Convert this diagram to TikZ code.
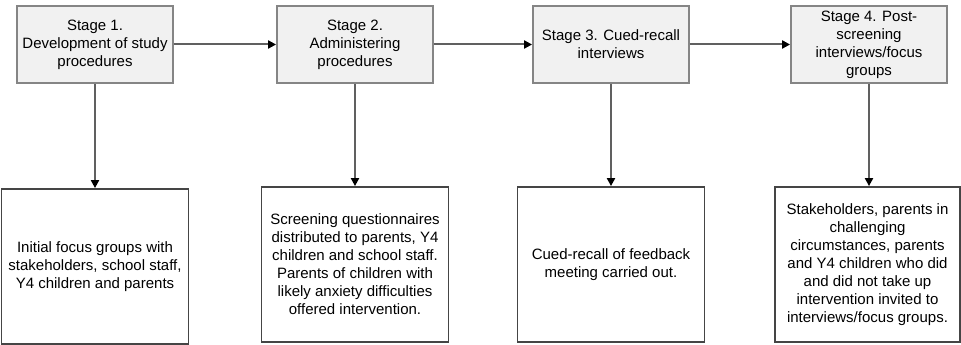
\documentclass[tikz,border=0pt]{standalone}
\usepackage{fontspec}
\setmainfont{Liberation Sans}
\usetikzlibrary{arrows.meta}
\definecolor{topfill}{HTML}{F1F1F1}
\definecolor{topline}{HTML}{858585}
\definecolor{botline}{HTML}{454545}
\definecolor{conline}{HTML}{606060}
\begin{document}
\begin{tikzpicture}[x=1pt,y=-1pt,
  stagebox/.style={draw=topline, fill=topfill, line width=1.8pt, minimum width=156pt, minimum height=77pt, inner sep=0pt, align=center, font=\fontsize{15}{18}\selectfont},
  infobox/.style={draw=botline, fill=white, line width=1.8pt, minimum width=187pt, minimum height=155pt, inner sep=0pt, align=center, font=\fontsize{15}{18}\selectfont},
  conn/.style={draw=conline, line width=2pt, -{Triangle[black,length=8pt,width=8pt]}}]
\useasboundingbox (0,0) rectangle (961,345);
\node[stagebox] (s1) at (95,44.5) {Stage 1.\\Development of study\\procedures};
\node[stagebox] (s2) at (355,44.5) {Stage 2.\\Administering\\procedures};
\node[stagebox] (s3) at (611,44.5) {Stage 3. Cued-recall\\interviews};
\node[stagebox] (s4) at (869,44.5) {Stage 4. Post-\\screening\\interviews/focus\\groups};
\node[infobox] (b1) at (95,266.5) {Initial focus groups with\\stakeholders, school staff,\\Y4 children and parents};
\node[infobox] (b2) at (355,264.5) {Screening questionnaires\\distributed to parents, Y4\\children and school staff.\\Parents of children with\\likely anxiety difficulties\\offered intervention.};
\node[infobox] (b3) at (611,264.5) {Cued-recall of feedback\\meeting carried out.};
\node[infobox, minimum width=185pt] (b4) at (867.5,264.5) {Stakeholders, parents in\\challenging\\circumstances, parents\\and Y4 children who did\\and did not take up\\intervention invited to\\interviews/focus groups.};
\draw[conn] (s1) -- (s2);
\draw[conn] (s2) -- (s3);
\draw[conn] (s3) -- (s4);
\draw[conn] (s1) -- (b1);
\draw[conn] (s2) -- (b2);
\draw[conn] (s3) -- (b3);
\draw[conn] (s4.south) -- (b4.north -| s4.south);
\end{tikzpicture}
\end{document}
